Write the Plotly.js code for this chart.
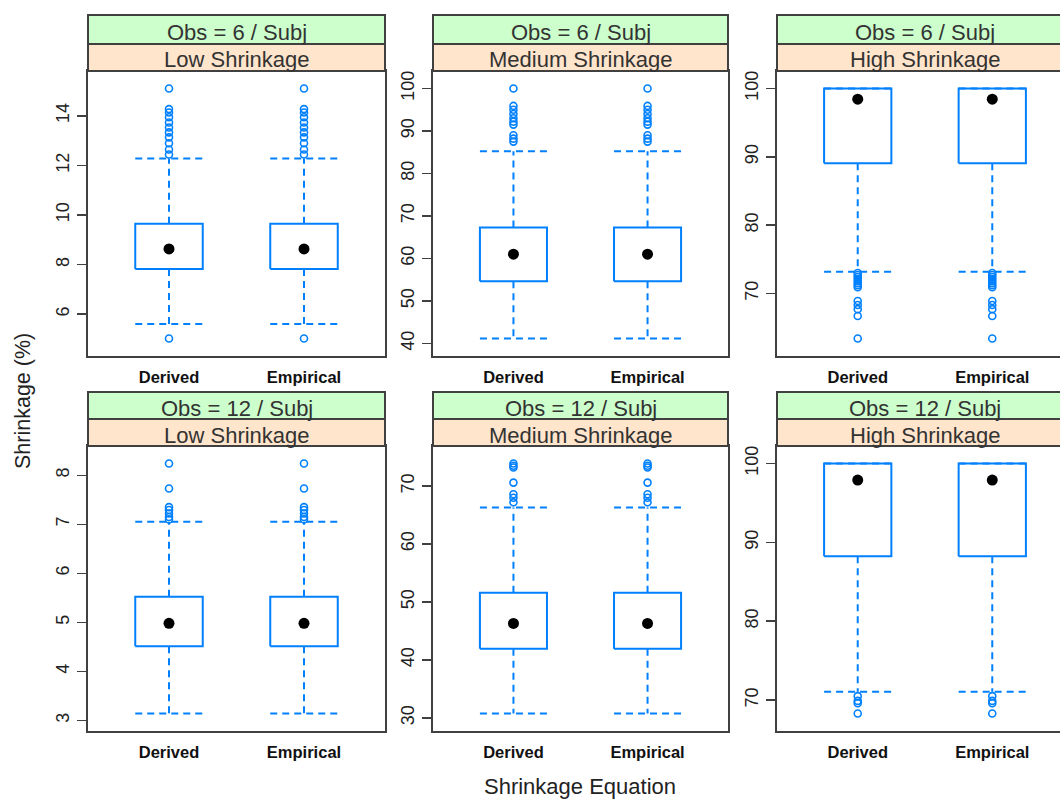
<!DOCTYPE html>
<html>
<head>
<meta charset="utf-8">
<script src="https://cdn.plot.ly/plotly-3.0.1.min.js"></script>
<style>
  html, body { margin: 0; padding: 0; overflow: hidden; background: #ffffff; }
  #chart { width: 1075px; height: 801px; }
</style>
</head>
<body>
<div id="chart"></div>
<script>
// ---------------- DATA ----------------
const equations = ["Derived", "Empirical"];
const obsLabels = ["Obs = 6 / Subj", "Obs = 12 / Subj"];
const shrinkLabels = ["Low Shrinkage", "Medium Shrinkage", "High Shrinkage"];
const yAxisTitle = "Shrinkage (%)";
const xAxisTitle = "Shrinkage Equation";

// five-number summaries: [lower whisker, Q1, median, Q3, upper whisker]
const obs6Low      = [5.60, 7.82, 8.63, 9.65, 12.28];
const obs6Medium   = [41.17, 54.67, 61.0, 67.28, 85.23];
const obs6High     = [73.19, 89.07, 98.43, 100.0, 100.0];
const obs12Low     = [3.14, 4.51, 4.98, 5.52, 7.05];
const obs12Medium  = [30.76, 41.95, 46.3, 51.6, 66.3];
const obs12High    = [71.06, 88.25, 97.9, 100.0, 100.0];

// outlying values (identical for Derived and Empirical)
const obs6LowOut     = [15.10, 14.27, 14.13, 13.94, 13.73, 13.53, 13.33, 13.13, 12.89, 12.64, 12.44, 5.02];
const obs6MediumOut  = [100.0, 95.9, 95.0, 94.0, 93.0, 92.2, 91.5, 89.0, 88.2, 87.5];
const obs6HighOut    = [73.0, 72.7, 72.4, 72.1, 71.8, 71.5, 71.2, 70.9, 68.9, 68.3, 67.7, 66.7, 63.4];
const obs12LowOut    = [8.24, 7.73, 7.35, 7.29, 7.22, 7.15, 7.10];
const obs12MediumOut = [73.9, 73.5, 73.2, 70.6, 68.6, 68.0, 67.2];
const obs12HighOut   = [70.5, 69.9, 69.6, 68.3];

// ---------------- LAYOUT HELPERS ----------------
const W = 1075, H = 801;
const px = v => v / W;
const py = v => 1 - v / H;
const colsPx = [[88, 385], [433, 728], [777, 1073]];
const rowsPx = [
  {green: [15, 44], peach: [44, 71], plot: [71, 356], gText: 32.5, pText: 59.5},
  {green: [392, 419], peach: [419, 446], plot: [446, 731], gText: 408.5, pText: 435}
];
const dticks = [2, 10, 10, 1, 10, 10];

const panels = [
  {stats: obs6Low, out: obs6LowOut},
  {stats: obs6Medium, out: obs6MediumOut},
  {stats: obs6High, out: obs6HighOut},
  {stats: obs12Low, out: obs12LowOut},
  {stats: obs12Medium, out: obs12MediumOut},
  {stats: obs12High, out: obs12HighOut}
];

const BLUE = "#0080ff";
const DARK = "#404040";
const FONT = "Liberation Sans, Arial, sans-serif";
const halfW = 0.25;

const traces = [];
const layout = {
  width: W, height: H,
  margin: {l: 0, r: 0, t: 0, b: 0},
  paper_bgcolor: "#ffffff",
  plot_bgcolor: "#ffffff",
  showlegend: false,
  font: {family: FONT, color: "#222222"},
  shapes: [],
  annotations: []
};

panels.forEach((p, i) => {
  const row = Math.floor(i / 3), col = i % 3;
  const sfx = i === 0 ? "" : String(i + 1);
  const xa = "x" + sfx, ya = "y" + sfx;
  const [lw, q1, med, q3, uw] = p.stats;

  const wx = [], wy = [], bx = [], by = [], ox = [], oy = [], mx = [], my = [];
  equations.forEach((eq, k) => {
    const c = k + 1;
    wx.push(c, c, null, c, c, null, c - halfW, c + halfW, null, c - halfW, c + halfW, null);
    wy.push(q3, uw, null, q1, lw, null, uw, uw, null, lw, lw, null);
    bx.push(c - halfW, c + halfW, c + halfW, c - halfW, c - halfW, null);
    by.push(q1, q1, q3, q3, q1, null);
    p.out.forEach(v => { ox.push(c); oy.push(v); });
    mx.push(c); my.push(med);
  });
  traces.push({type: "scatter", mode: "lines", x: wx, y: wy, xaxis: xa, yaxis: ya,
    line: {color: BLUE, width: 2, dash: "7px,5px"}, hoverinfo: "skip"});
  traces.push({type: "scatter", mode: "lines", x: bx, y: by, xaxis: xa, yaxis: ya,
    line: {color: BLUE, width: 2}, hoverinfo: "skip"});
  traces.push({type: "scatter", mode: "markers", x: ox, y: oy, xaxis: xa, yaxis: ya,
    marker: {symbol: "circle-open", size: 7, color: BLUE, line: {width: 1.6, color: BLUE}}});
  traces.push({type: "scatter", mode: "markers", x: mx, y: my, xaxis: xa, yaxis: ya,
    marker: {symbol: "circle", size: 11, color: "#000000"}});

  // axis ranges from data with 7% padding (lattice style)
  const all = p.out.concat([lw, uw]);
  const lo = Math.min(...all), hi = Math.max(...all);
  const pad = 0.07 * (hi - lo);

  const [x0, x1] = colsPx[col];
  const r = rowsPx[row];
  layout["xaxis" + sfx] = {
    domain: [px(x0), px(x1)], anchor: ya, range: [0.4, 2.6],
    tickvals: [1, 2], ticktext: equations, ticks: "",
    showgrid: false, zeroline: false, showline: true, mirror: true,
    linecolor: DARK, linewidth: 2, automargin: false,
    ticklabelstandoff: 5,
    tickfont: {family: FONT, size: 16.5, color: "#111111", weight: 700},
    fixedrange: true
  };
  layout["yaxis" + sfx] = {
    domain: [py(r.plot[1]), py(r.plot[0])], anchor: xa, range: [lo - pad, hi + pad],
    dtick: dticks[i], tick0: 0, ticks: "outside", ticklen: 9, tickwidth: 1.5, tickcolor: DARK,
    tickangle: -90, showgrid: false, zeroline: false, showline: true, mirror: true,
    linecolor: DARK, linewidth: 2, automargin: false,
    ticklabelstandoff: 1,
    tickfont: {family: FONT, size: 18, color: "#222222"},
    fixedrange: true
  };

  // strips
  layout.shapes.push({type: "rect", xref: "paper", yref: "paper",
    x0: px(x0), x1: px(x1), y0: py(r.green[1]), y1: py(r.green[0]),
    fillcolor: "#ccffcc", line: {color: DARK, width: 2}, layer: "above"});
  layout.shapes.push({type: "rect", xref: "paper", yref: "paper",
    x0: px(x0), x1: px(x1), y0: py(r.peach[1]), y1: py(r.peach[0]),
    fillcolor: "#ffe5cc", line: {color: DARK, width: 2}, layer: "above"});
  layout.annotations.push({xref: "paper", yref: "paper", x: px((x0 + x1) / 2), y: py(r.gText),
    text: obsLabels[row], showarrow: false, xanchor: "center", yanchor: "middle",
    font: {family: FONT, size: 22, color: "#333333"}});
  layout.annotations.push({xref: "paper", yref: "paper", x: px((x0 + x1) / 2), y: py(r.pText),
    text: shrinkLabels[col], showarrow: false, xanchor: "center", yanchor: "middle",
    font: {family: FONT, size: 22, color: "#333333"}});
});

layout.annotations.push({xref: "paper", yref: "paper", x: px(23), y: py(401),
  text: yAxisTitle, textangle: -90, showarrow: false, xanchor: "center", yanchor: "middle",
  font: {family: FONT, size: 21.5, color: "#222222"}});
layout.annotations.push({xref: "paper", yref: "paper", x: px(580), y: py(786),
  text: xAxisTitle, showarrow: false, xanchor: "center", yanchor: "middle",
  font: {family: FONT, size: 22, color: "#222222"}});

Plotly.newPlot("chart", traces, layout, {displayModeBar: false, staticPlot: true});
</script>
</body>
</html>
